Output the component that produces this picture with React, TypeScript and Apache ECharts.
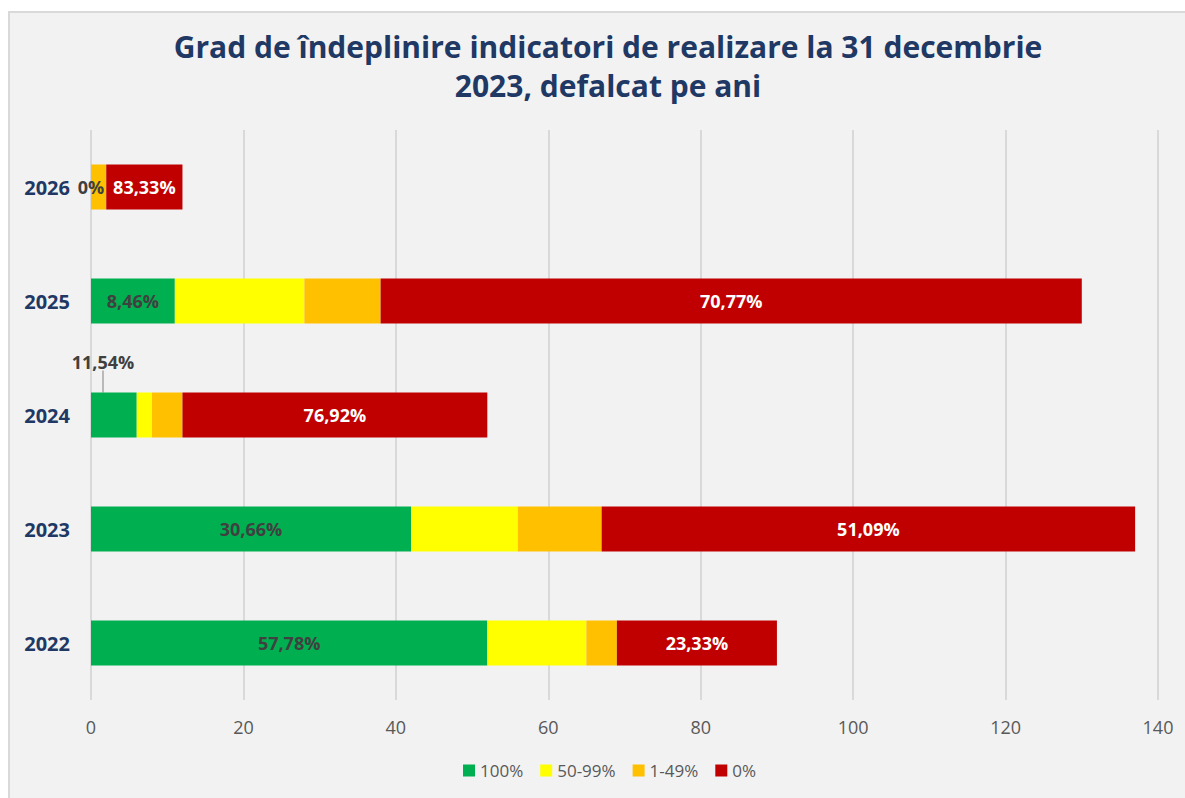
import React, { useEffect, useRef } from "react";
import * as echarts from "echarts";

const years = ["2022", "2023", "2024", "2025", "2026"];
const full = [52, 42, 6, 11, 0];
const high = [13, 14, 2, 17, 0];
const low = [4, 11, 4, 10, 2];
const none = [21, 70, 40, 92, 10];
const seriesNames = ["100%", "50-99%", "1-49%", "0%"];
const colors = ["#00b050", "#ffff00", "#ffc000", "#c00000"];
const xTicks = { min: 0, max: 140, interval: 20 };

const FONT = "'Open Sans', 'Noto Sans', sans-serif";

const totals = years.map((_, i) => full[i] + high[i] + low[i] + none[i]);
const pct = (v: number, i: number) => {
  if (v === 0) return "0%";
  return ((v / totals[i]) * 100).toFixed(2).replace(".", ",") + "%";
};

export default function App() {
  const ref = useRef<HTMLDivElement>(null);
  useEffect(() => {
    if (!ref.current) return;
    const chart = echarts.init(ref.current, null, { renderer: "svg" });
    const mk = (name: string, data: number[], color: string, label: any) => ({
      name,
      type: "bar",
      stack: "total",
      barWidth: 45,
      data,
      itemStyle: { color },
      label,
    });
    chart.setOption({
      animation: false,
      textStyle: { fontFamily: FONT },
      title: {
        text: "Grad de îndeplinire indicatori de realizare la 31 decembrie\n2023, defalcat pe ani",
        left: 603,
        top: 22,
        textAlign: "center",
        textStyle: {
          color: "#1f3864",
          fontSize: 30,
          fontWeight: "bold",
          fontFamily: FONT,
          lineHeight: 39,
        },
      },
      legend: {
        bottom: 14,
        left: 458,
        itemWidth: 12,
        itemHeight: 12,
        itemGap: 17,
        icon: "rect",
        textStyle: { color: "#595959", fontSize: 17, fontFamily: FONT },
        data: seriesNames,
      },
      grid: { left: 91, right: 27, top: 130, bottom: 98 },
      xAxis: {
        type: "value",
        min: xTicks.min,
        max: xTicks.max,
        interval: xTicks.interval,
        axisLine: { show: false },
        axisTick: { show: false },
        axisLabel: { color: "#595959", fontSize: 18, margin: 18, fontFamily: FONT },
        splitLine: { lineStyle: { color: "#d9d9d9", width: 2 } },
      },
      yAxis: {
        type: "category",
        data: years,
        axisLine: { show: false },
        axisTick: { show: false },
        axisLabel: {
          color: "#1f3864",
          fontSize: 20,
          fontWeight: "bold",
          margin: 21,
          fontFamily: FONT,
        },
      },
      series: [
        {
          ...mk(seriesNames[0], full, colors[0], {
            show: true,
            position: "inside",
            color: "#404040",
            fontSize: 18,
            fontWeight: "bold",
            fontFamily: FONT,
            formatter: (p: any) => pct(p.value, p.dataIndex),
          }),
          labelLine: { show: true, lineStyle: { color: "#a6a6a6", width: 1.5 } },
          labelLayout: (p: any) =>
            p.dataIndex === 2
              ? {
                  x: p.rect.x + 12,
                  y: p.rect.y - 31,
                  align: "center",
                  verticalAlign: "middle",
                }
              : {},
        },
        mk(seriesNames[1], high, colors[1], { show: false }),
        mk(seriesNames[2], low, colors[2], { show: false }),
        mk(seriesNames[3], none, colors[3], {
          show: true,
          position: "inside",
          color: "#ffffff",
          fontSize: 18,
          fontWeight: "bold",
          fontFamily: FONT,
          formatter: (p: any) => pct(p.value, p.dataIndex),
        }),
      ],
    });
    return () => chart.dispose();
  }, []);
  return (
    <>
      <div
        style={{
          position: "fixed",
          left: 8,
          top: 11,
          right: 0,
          bottom: 0,
          background: "#f2f2f2",
          borderLeft: "2px solid #d9d9d9",
          borderTop: "2px solid #d9d9d9",
        }}
      />
      <div
        ref={ref}
        style={{ position: "fixed", left: 0, top: 0, width: 1185, height: 798 }}
      />
    </>
  );
}
